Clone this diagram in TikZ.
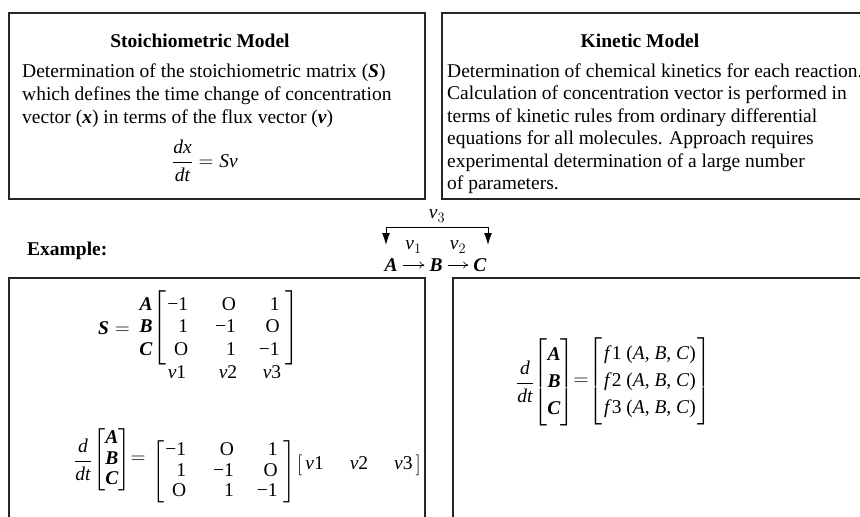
\documentclass[tikz,border=0pt]{standalone}
\usepackage{amsmath}
\usepackage{fontspec}
\setmainfont{Liberation Serif}
\usetikzlibrary{arrows.meta}
\newcommand{\fsz}{\fontsize{19.5}{22.5}\selectfont}
\newcommand{\iv}[1]{\textit{#1}}
\newcommand{\bv}[1]{\textbf{\textit{#1}}}
\newcommand{\tx}[1]{\text{#1}}
\begin{document}
\begin{tikzpicture}[x=1pt,y=-1pt,
  box/.style={draw=black!85, line width=1.1pt},
  txt/.style={anchor=base west, inner sep=0pt, font=\fsz},
  ttl/.style={anchor=base, inner sep=0pt, font=\fsz\bfseries},
  mth/.style={inner sep=0pt, font=\fsz},
  rn/.style={inner sep=5pt, font=\fsz},
  lbl/.style={inner sep=0pt, font=\fsz},
  rx/.style={-{To[length=5pt,width=7pt]}, line width=0.6pt},
  bk/.style={line width=1pt, {Latex[length=12pt,width=8pt]}-{Latex[length=12pt,width=8pt]}}
]
\useasboundingbox (0,0) rectangle (860,517);
\clip (0,0) rectangle (860,517);

% frames
\draw[box] (9,13) rectangle (425,199);
\draw[box] (442,13) rectangle (875,199);
\draw[box] (9,278) rectangle (425,530);
\draw[box] (453,278) rectangle (875,530);

% stoichiometric model
\node[ttl] (st) at (200,47) {Stoichiometric Model};
\node[txt] (s1) at (22,77) {Determination of the stoichiometric matrix (\bv{S})};
\node[txt] (s2) at (22,100) {which defines the time change of concentration};
\node[txt] (s3) at (22,123) {vector (\bv{x}) in terms of the flux vector (\bv{v})};
\node[mth] (seq) at (205,161) {$\dfrac{\iv{dx}}{\iv{dt}} = \iv{Sv}$};

% kinetic model
\node[ttl] (kt) at (640,47) {Kinetic Model};
\node[txt] (k1) at (447,77) {Determination of chemical kinetics for each reaction.};
\node[txt] (k2) at (447,99.5) {Calculation of concentration vector is performed in};
\node[txt] (k3) at (447,122) {terms of kinetic rules from ordinary differential};
\node[txt] (k4) at (447,144.5) {equations for all molecules. Approach requires};
\node[txt] (k5) at (447,167) {experimental determination of a large number};
\node[txt] (k6) at (447,189.5) {of parameters.};

% example
\node[txt, font=\fsz\bfseries] (ex) at (27,255) {Example:};

\node[rn] (A) at (391,265) {\bv{A}};
\node[rn] (B) at (436,265) {\bv{B}};
\node[rn] (C) at (480,265) {\bv{C}};
\draw[rx] (A) -- (B) node[lbl, midway, yshift=18pt] {$\iv{v}_1$};
\draw[rx] (B) -- (C) node[lbl, midway, yshift=18pt] {$\iv{v}_2$};
\coordinate (la) at (386,245);
\coordinate (lt) at (386,227);
\coordinate (rt) at (488,227);
\coordinate (ra) at (488,245);
\draw[bk] (la) -- (lt) -- (rt) node[lbl, midway, yshift=11pt] {$\iv{v}_3$} -- (ra);

% S matrix
\node[mth] (Slab) at (114,328) {$\bv{S} =$};
\node[mth] (rows) at (146,328) {$\begin{array}{@{}r@{}}\bv{A}\\ \bv{B}\\ \bv{C}\end{array}$};
\node[mth] (Smat) at (226,328) {$\left[\begin{array}{@{\hspace{1pt}}r@{\hspace{27pt}}r@{\hspace{23pt}}r@{\hspace{6pt}}} \tx{−1} & \tx{O} & \tx{1}\\ \tx{1} & \tx{−1} & \tx{O}\\ \tx{O} & \tx{1} & \tx{−1}\end{array}\right]$};
\node[mth] (c1) at (177,372) {\iv{v}1};
\node[mth] (c2) at (228,372) {\iv{v}2};
\node[mth] (c3) at (272,372) {\iv{v}3};

% ODE, stoichiometric form
\node[mth] (ddt1) at (83,460) {$\dfrac{\iv{d}}{\iv{dt}}$};
\node[mth] (vec1) at (112,460) {\def\arraystretch{0.89}$\left[\begin{array}{@{}c@{}}\bv{A}\\ \bv{B}\\ \bv{C}\end{array}\right]$};
\node[mth] (eq1) at (138,460) {$=$};
\node[mth] (M1) at (224,472) {\def\arraystretch{0.91}$\left[\begin{array}{@{\hspace{1pt}}r@{\hspace{27pt}}r@{\hspace{23pt}}r@{\hspace{6pt}}} \tx{−1} & \tx{O} & \tx{1}\\ \tx{1} & \tx{−1} & \tx{O}\\ \tx{O} & \tx{1} & \tx{−1}\end{array}\right]$};
\node[mth] (V1) at (359,465) {$\left[\begin{array}{@{\hspace{3pt}}l@{\hspace{26pt}}l@{\hspace{26pt}}l@{\hspace{3pt}}} \tx{\iv{v}1} & \tx{\iv{v}2} & \tx{\iv{v}3}\end{array}\right]$};

% ODE, kinetic form
\node[mth] (ddt2) at (525,382) {$\dfrac{\iv{d}}{\iv{dt}}$};
\node[mth] (vec2) at (554,382) {\def\arraystretch{1.2}$\left[\begin{array}{@{}c@{}}\bv{A}\\ \bv{B}\\ \bv{C}\end{array}\right]$};
\node[mth] (eq2) at (581,382) {$=$};
\node[mth] (F) at (650,381) {\def\arraystretch{1.22}$\left[\begin{array}{@{\hspace{2pt}}l@{\hspace{2pt}}} \tx{\iv{f}1 (\iv{A}, \iv{B}, \iv{C})}\\ \tx{\iv{f}2 (\iv{A}, \iv{B}, \iv{C})}\\ \tx{\iv{f}3 (\iv{A}, \iv{B}, \iv{C})}\end{array}\right]$};
\end{tikzpicture}
\end{document}
